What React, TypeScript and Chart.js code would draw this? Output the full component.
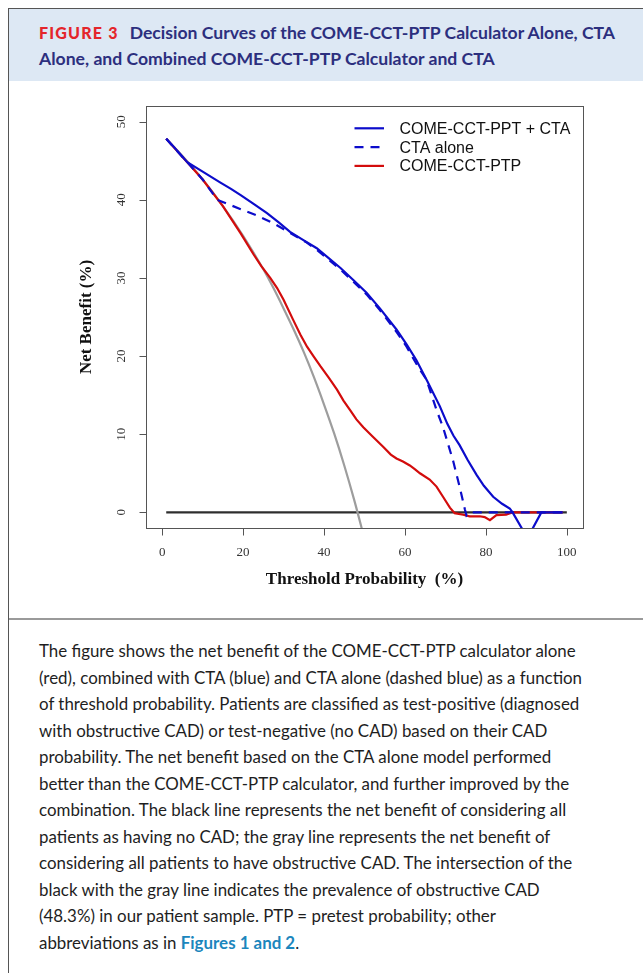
import React, { useEffect, useRef } from "react";
import { Chart, registerables } from "chart.js";

Chart.register(...registerables);

// Threshold probability (%) and net benefit (%)
const comboX = [1, 3, 6.2, 10, 14.4, 17, 19.4, 22.5, 25.9, 28.8, 31.6, 35, 38.2, 41, 44, 47.3, 50.5, 53.8, 57.9, 60.4, 62.8, 65.5, 68.6, 70.5, 72, 73.5, 75.5, 77.7, 79.5, 81.8, 84, 85.9, 86.6, 89.5, 91, 93.7, 99];
const comboY = [47.8, 46.7, 44.8, 43.6, 42.2, 41.4, 40.6, 39.5, 38.3, 37.1, 35.9, 34.8, 33.8, 32.6, 31.3, 29.7, 28.1, 26.1, 23.4, 21.5, 19.5, 16.8, 13.6, 11.3, 9.8, 8.6, 6.7, 4.8, 3.4, 2.0, 1.1, 0.5, 0, -2.6, -2.6, 0, 0];

const ctaX = [1, 6.2, 10, 13.6, 19.4, 23.4, 27.5, 32.5, 35.5, 38.2, 44, 50.5, 53.8, 57.9, 60.4, 63.5, 65.3, 67.8, 69.4, 71.9, 73.5, 74.8, 75.2, 76, 99];
const ctaY = [47.8, 44.8, 42.6, 40.0, 38.8, 38.0, 37.0, 35.5, 34.6, 33.6, 31.1, 27.9, 25.9, 23.1, 21.2, 18.4, 17.0, 13.1, 10.9, 6.6, 3.3, 0.4, -0.4, 0, 0];

const ptpX = [1, 6.2, 10, 15, 19.4, 22.6, 24.5, 26.7, 28.4, 30, 32.4, 34.2, 35.8, 37.5, 39.1, 41.2, 43.2, 44.8, 46.4, 48, 49.7, 52, 54.6, 56.5, 57.9, 59.5, 61.2, 62.5, 63.7, 66.1, 67.8, 69.4, 71.1, 72.3, 74.4, 76, 78.5, 79.7, 81, 82.6, 85, 86.5, 99];
const ptpY = [47.8, 44.8, 42.6, 39.2, 35.7, 33.0, 31.5, 30.0, 28.7, 27.2, 24.6, 22.7, 21.2, 19.9, 18.7, 17.2, 15.7, 14.3, 13.1, 11.9, 10.9, 9.7, 8.4, 7.4, 6.9, 6.5, 6.0, 5.5, 5.0, 4.2, 3.3, 2.0, 0.6, -0.1, -0.3, -0.5, -0.5, -0.6, -1.0, -0.35, -0.3, 0, 0];

const allX = [1, 5, 10, 15, 20, 25, 27.5, 30, 32.5, 35, 37.5, 40, 42.5, 45, 47.5, 50];
const allY = [47.8, 45.6, 42.6, 39.2, 35.4, 31.1, 28.7, 26.1, 23.4, 20.5, 17.3, 13.8, 10.1, 6.0, 1.5, -3.4];

const noneX = [1, 100];
const noneY = [0, 0];

const xTicks = [0, 20, 40, 60, 80, 100];
const yTicks = [0, 10, 20, 30, 40, 50];

const seriesLabels = ["COME-CCT-PPT + CTA", "CTA alone", "COME-CCT-PTP", "Treat all", "Treat none"];
const xTitle = "Threshold Probability  (%)";
const yTitle = "Net Benefit (%)";

const pts = (xs: number[], ys: number[]) => xs.map((x, i) => ({ x, y: ys[i] }));

const rAxesPlugin = {
  id: "rAxes",
  afterDatasetsDraw(chart: any) {
    const { ctx, chartArea: a, scales } = chart;
    const xs = scales.x;
    const ys = scales.y;
    ctx.save();
    ctx.strokeStyle = "#555";
    ctx.lineWidth = 1;
    const L = Math.round(a.left) + 0.5;
    const T = Math.round(a.top) + 0.5;
    const R = Math.round(a.right) + 0.5;
    const B = Math.round(a.bottom) + 0.5;
    ctx.strokeRect(L, T, R - L, B - T);
    ctx.beginPath();
    xTicks.forEach((v) => {
      const px = Math.round(xs.getPixelForValue(v)) + 0.5;
      ctx.moveTo(px, B);
      ctx.lineTo(px, B + 7);
    });
    yTicks.forEach((v) => {
      const py = Math.round(ys.getPixelForValue(v)) + 0.5;
      ctx.moveTo(L, py);
      ctx.lineTo(L - 7, py);
    });
    ctx.stroke();

    ctx.fillStyle = "#333";
    ctx.font = "13px 'Liberation Serif', serif";
    ctx.textAlign = "center";
    ctx.textBaseline = "middle";
    xTicks.forEach((v) => ctx.fillText(String(v), xs.getPixelForValue(v), a.bottom + 25));
    yTicks.forEach((v) => {
      ctx.save();
      ctx.translate(a.left - 24, ys.getPixelForValue(v));
      ctx.rotate(-Math.PI / 2);
      ctx.fillText(String(v), 0, 0);
      ctx.restore();
    });

    ctx.fillStyle = "#111";
    ctx.font = "bold 17px 'Liberation Serif', serif";
    ctx.fillText(xTitle, (a.left + a.right) / 2, a.bottom + 52);
    ctx.save();
    ctx.translate(a.left - 59, (a.top + a.bottom) / 2);
    ctx.rotate(-Math.PI / 2);
    ctx.fillText(yTitle, 0, 0);
    ctx.restore();

    // legend (R style, no box)
    ctx.font = "16px 'Liberation Sans', sans-serif";
    ctx.textAlign = "left";
    chart.data.datasets.slice(0, 3).forEach((ds: any, i: number) => {
      const y = a.top + 22.3 + i * 18.8;
      ctx.save();
      ctx.strokeStyle = ds.borderColor;
      ctx.lineWidth = ds.borderWidth;
      ctx.setLineDash(ds.borderDash || []);
      ctx.beginPath();
      ctx.moveTo(a.right - 228.5, y);
      ctx.lineTo(a.right - 199, y);
      ctx.stroke();
      ctx.restore();
      ctx.fillStyle = "#111";
      ctx.fillText(ds.label, a.right - 183.5, y + 1);
    });
    ctx.restore();
  },
};

function DecisionChart() {
  const ref = useRef<HTMLCanvasElement | null>(null);
  useEffect(() => {
    if (!ref.current) return;
    const blue = "#0c0ccb";
    const chart = new Chart(ref.current, {
      type: "line",
      data: {
        datasets: [
          { label: seriesLabels[0], data: pts(comboX, comboY), borderColor: blue, borderWidth: 2.2, pointRadius: 0, tension: 0 },
          { label: seriesLabels[1], data: pts(ctaX, ctaY), borderColor: blue, borderWidth: 2.2, borderDash: [9, 7], pointRadius: 0, tension: 0 },
          { label: seriesLabels[2], data: pts(ptpX, ptpY), borderColor: "#d30c0c", borderWidth: 2.2, pointRadius: 0, tension: 0 },
          { label: seriesLabels[3], data: pts(allX, allY), borderColor: "#9d9d9d", borderWidth: 2.2, pointRadius: 0, cubicInterpolationMode: "monotone" },
          { label: seriesLabels[4], data: pts(noneX, noneY), borderColor: "#2e2e2e", borderWidth: 2.2, pointRadius: 0 },
        ],
      },
      options: {
        animation: false,
        responsive: false,
        layout: { padding: { left: 137, right: 60, top: 25, bottom: 90 } },
        plugins: { legend: { display: false }, tooltip: { enabled: false }, title: { display: false } },
        scales: {
          x: { type: "linear", min: -4, max: 104, display: false },
          y: { type: "linear", min: -2, max: 52, display: false },
        },
      } as any,
      plugins: [rAxesPlugin],
    });
    return () => chart.destroy();
  }, []);
  return <canvas ref={ref} width={634} height={537} style={{ position: "absolute", left: 9, top: 81 }} />;
}

const captionLines = [
  "The figure shows the net benefit of the COME-CCT-PTP calculator alone",
  "(red), combined with CTA (blue) and CTA alone (dashed blue) as a function",
  "of threshold probability. Patients are classified as test-positive (diagnosed",
  "with obstructive CAD) or test-negative (no CAD) based on their CAD",
  "probability. The net benefit based on the CTA alone model performed",
  "better than the COME-CCT-PTP calculator, and further improved by the",
  "combination. The black line represents the net benefit of considering all",
  "patients as having no CAD; the gray line represents the net benefit of",
  "considering all patients to have obstructive CAD. The intersection of the",
  "black with the gray line indicates the prevalence of obstructive CAD",
  "(48.3%) in our patient sample. PTP = pretest probability; other",
];

export default function App() {
  return (
    <div style={{ position: "absolute", left: 0, top: 0, width: 643, height: 973, overflow: "hidden", background: "#fff" }}>
      <div style={{ position: "absolute", left: 8, top: 8, width: 640, height: 970, borderLeft: "1px solid #555", borderTop: "1px solid #555" }} />
      <div style={{ position: "absolute", left: 9, top: 9, width: 634, height: 72, background: "#dde8f4" }} />
      <div
        style={{
          position: "absolute",
          left: 39,
          top: 20,
          width: 600,
          fontFamily: "Lato, sans-serif",
          fontWeight: 700,
          fontSize: 17.6,
          lineHeight: "26px",
          color: "#2c2f7e",
          whiteSpace: "nowrap",
        }}
      >
        <span style={{ color: "#e4252b", letterSpacing: "1.2px", fontWeight: 900, fontSize: 16, marginRight: 11 }}>FIGURE 3</span>
        Decision Curves of the COME-CCT-PTP Calculator Alone, CTA
        <br />
        Alone, and Combined COME-CCT-PTP Calculator and CTA
      </div>
      <DecisionChart />
      <div style={{ position: "absolute", left: 9, top: 618, width: 634, height: 2, background: "#9a9a9a" }} />
      <div
        style={{
          position: "absolute",
          left: 39,
          top: 638,
          fontFamily: "Lato, sans-serif",
          fontSize: 16.9,
          lineHeight: "26.5px",
          color: "#1e1e1e",
          whiteSpace: "nowrap",
        }}
      >
        {captionLines.map((l, i) => (
          <div key={i}>{l}</div>
        ))}
        <div>
          abbreviations as in <span style={{ fontWeight: 700, color: "#1b86bd" }}>Figures 1 and 2</span>.
        </div>
      </div>
    </div>
  );
}
